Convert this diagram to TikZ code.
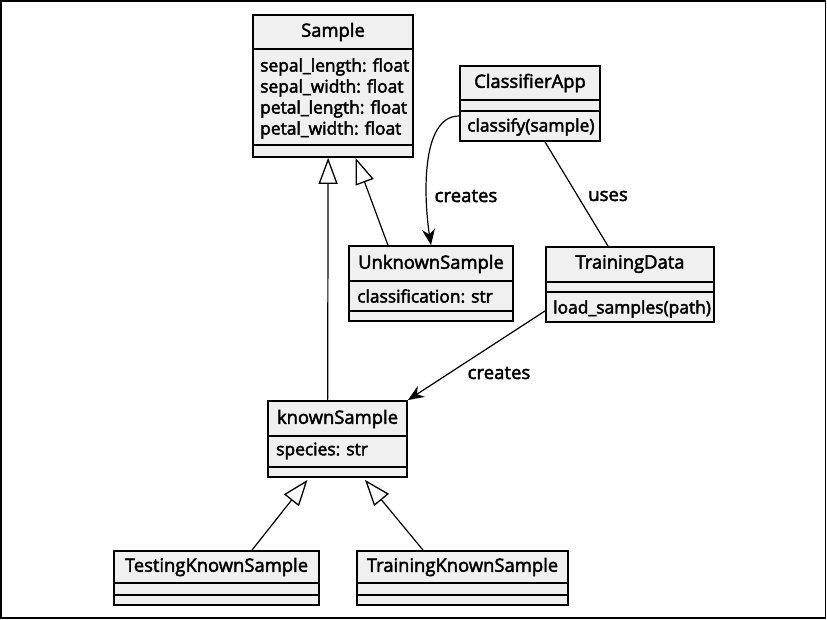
\documentclass[tikz,border=0pt]{standalone}
\usepackage{fontspec}
\setmainfont{Open Sans}
\usetikzlibrary{arrows.meta,calc}
\newcommand{\heavytext}{\special{pdf:literal direct 2 Tr 0.45 w}}
\tikzset{
  cls/.style={draw=black, line width=1.8pt, fill=black!6, rectangle, inner sep=0pt},
  sep/.style={line width=1.8pt},
  txt/.style={inner sep=0pt, font=\heavytext\fontsize{17.4}{20}\selectfont},
  ttl/.style={inner sep=0pt, font=\heavytext\fontsize{18.4}{21}\selectfont},
  lft/.style={txt, anchor=west},
  conn/.style={line width=1.2pt},
  gen/.style={conn, -{Triangle[open,length=26pt,width=19pt,line width=1.3pt]}},
  dep/.style={conn, -{Stealth[length=16pt,width=13pt]}},
  lbl/.style={inner sep=0pt, font=\heavytext\fontsize{18.6}{21}\selectfont}
}
\begin{document}
\begin{tikzpicture}[x=1pt,y=-1pt]
\useasboundingbox (0,0) rectangle (827,620);
\draw[line width=1.6pt] (1,1) rectangle (825.5,618);

% Sample
\node[cls, minimum width=160pt, minimum height=142pt] (sample) at (333,86) {};
\draw[sep] (253,49) -- (413,49);
\draw[sep] (253,145) -- (413,145);
\node[ttl] (sampleT) at (333,32) {Sample};
\node[lft] (sa1) at (260,67) {sepal\_length: float};
\node[lft] (sa2) at (260,88) {sepal\_width: float};
\node[lft] (sa3) at (260,109) {petal\_length: float};
\node[lft] (sa4) at (260,130) {petal\_width: float};

% ClassifierApp
\node[cls, minimum width=140pt, minimum height=75pt] (capp) at (530,103.5) {};
\draw[sep] (460,100) -- (600,100);
\draw[sep] (460,111) -- (600,111);
\node[ttl] (cappT) at (530,83) {ClassifierApp};
\node[lft] (cappM) at (467,127) {classify(sample)};

% UnknownSample
\node[cls, minimum width=164pt, minimum height=75pt] (unk) at (431,283.5) {};
\draw[sep] (349,281) -- (513,281);
\draw[sep] (349,311) -- (513,311);
\node[ttl] (unkT) at (431,264) {UnknownSample};
\node[lft] (unkA) at (357,296) {classification: str};

% TrainingData
\node[cls, minimum width=168pt, minimum height=75pt] (td) at (630,284.5) {};
\draw[sep] (546,282) -- (714,282);
\draw[sep] (546,292) -- (714,292);
\node[ttl] (tdT) at (630,264) {TrainingData};
\node[lft] (tdM) at (553,309) {load\_samples(path)};

% knownSample
\node[cls, minimum width=139pt, minimum height=76pt] (ks) at (337.5,439) {};
\draw[sep] (268,436) -- (407,436);
\draw[sep] (268,467) -- (407,467);
\node[ttl] (ksT) at (337.5,419) {knownSample};
\node[lft] (ksA) at (276,451) {species: str};

% TestingKnownSample
\node[cls, minimum width=205pt, minimum height=54pt] (tks) at (216.5,578) {};
\draw[sep] (114,583) -- (319,583);
\draw[sep] (114,595) -- (319,595);
\node[ttl] (tksT) at (216.5,567) {TestingKnownSample};

% TrainingKnownSample
\node[cls, minimum width=211pt, minimum height=54pt] (trks) at (462.5,578) {};
\draw[sep] (357,583) -- (568,583);
\draw[sep] (357,595) -- (568,595);
\node[ttl] (trksT) at (462.5,567) {TrainingKnownSample};

% connectors
\draw[gen] ($(ks.north west)!0.43!(ks.north east)$) -- ($(sample.south west)!0.47!(sample.south east)$);
\draw[gen] ($(unk.north west)!0.24!(unk.north east)$) -- ($(sample.south west)!0.64!(sample.south east)$);
\draw[dep] ([yshift=-12.5pt]capp.west) .. controls (420,116) and (424,200) .. (unk.north);
\node[lbl] (c1) at (466,196) {creates};
\draw[conn] ([xshift=15pt]capp.south) -- ([xshift=-22pt]td.north);
\node[lbl] (u1) at (608,196) {uses};
\draw[dep] ([yshift=12pt]td.south west) -- (ks.north east);
\node[lbl] (c2) at (499,373) {creates};
\draw[gen] ([xshift=35.5pt]tks.north) -- ([xshift=-30pt,yshift=-2pt]ks.south);
\draw[gen] ([xshift=-39.5pt]trks.north) -- ([xshift=27.5pt,yshift=-2pt]ks.south);
\end{tikzpicture}
\end{document}
